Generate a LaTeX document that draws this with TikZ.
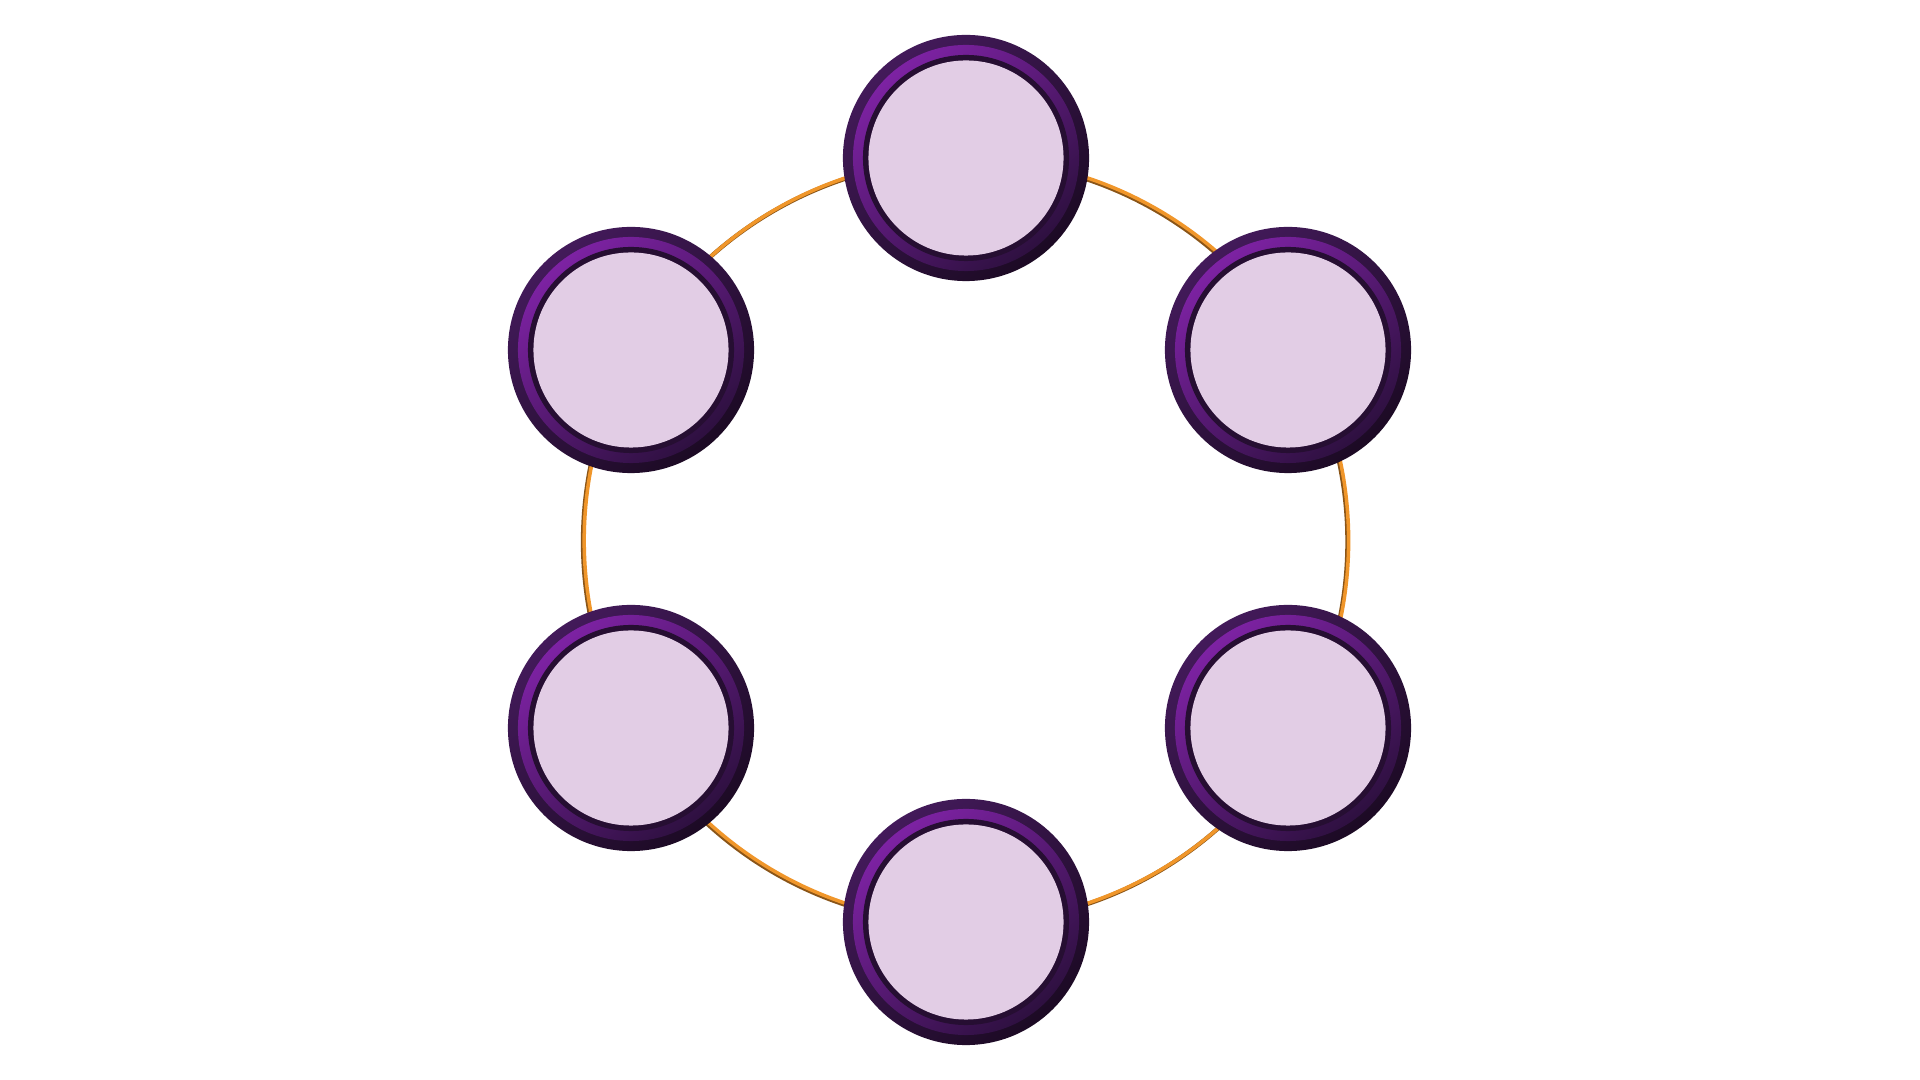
\documentclass[tikz,border=0pt]{standalone}
\begin{document}
\definecolor{ringorange}{HTML}{F0962A}
\definecolor{ringshadow}{HTML}{8A5518}
\definecolor{outerA}{HTML}{431A5A}
\definecolor{outerB}{HTML}{1C0A24}
\definecolor{bandA}{HTML}{7D22A3}
\definecolor{bandB}{HTML}{2E1040}
\definecolor{thinring}{HTML}{260E32}
\definecolor{lightfill}{HTML}{E2CDE5}
\tikzset{
  disc/.style={circle, minimum size=2.46cm, inner sep=0pt, draw=none,
    top color=outerA, bottom color=outerB, shading angle=40},
  band/.style={top color=bandA, bottom color=bandB, shading angle=40},
}
\begin{tikzpicture}[x=0.01cm,y=-0.01cm]
\useasboundingbox (0,0) rectangle (1920,1080);
\fill[white] (0,0) rectangle (1920,1080);
\coordinate (c) at (966,541);
% ring
\draw[ringshadow, line width=1.2pt] ([shift={(-0.8,0.8)}]c) circle[radius=3.82cm];
\draw[ringorange, line width=1.0pt] ([shift={(0.4,-0.4)}]c) circle[radius=3.82cm];
% discs
\node[disc] (n1) at (966,158) {};
\node[disc] (n2) at (1288,350) {};
\node[disc] (n3) at (1288,728) {};
\node[disc] (n4) at (966,922) {};
\node[disc] (n5) at (631,728) {};
\node[disc] (n6) at (631,350) {};
\foreach \n in {n1,n2,n3,n4,n5,n6}{
  \shade[band] (\n.center) circle[radius=1.13cm];
  \fill[thinring] (\n.center) circle[radius=1.03cm];
  \fill[lightfill] (\n.center) circle[radius=0.975cm];
}
\end{tikzpicture}
\end{document}
